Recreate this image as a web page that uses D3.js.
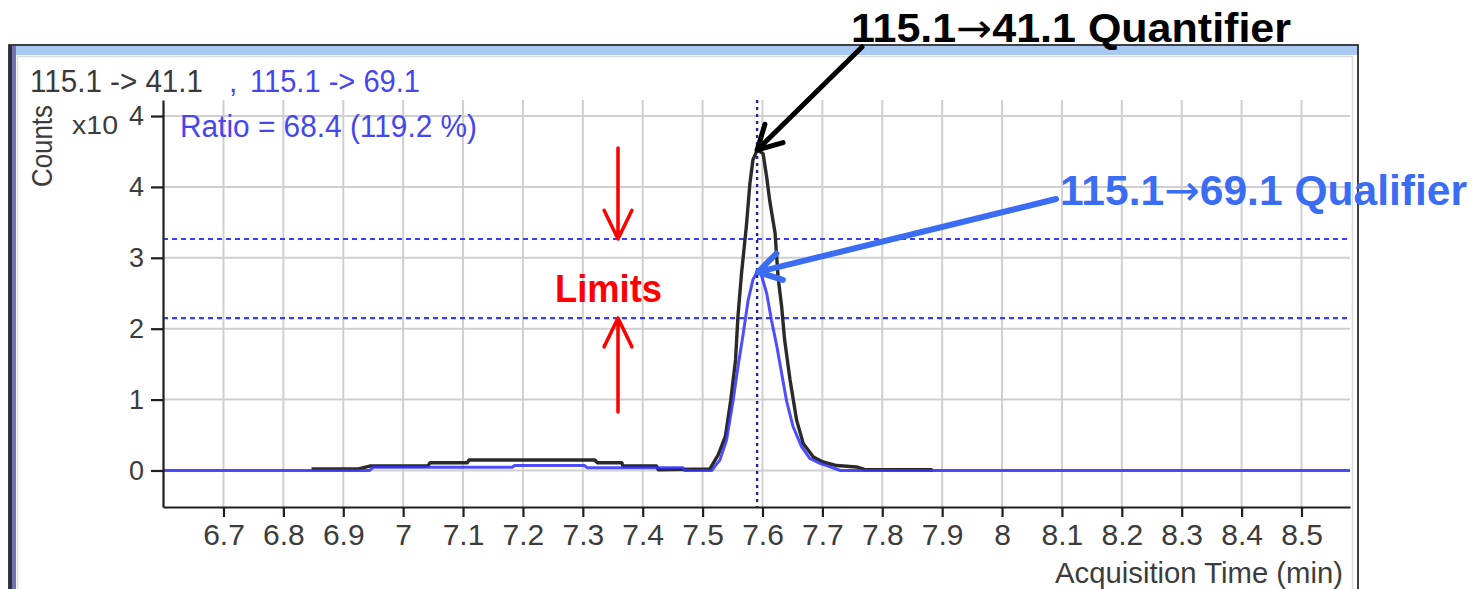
<!DOCTYPE html>
<html>
<head>
<meta charset="utf-8">
<script src="https://cdn.jsdelivr.net/npm/d3@7"></script>
<style>
  body { margin: 0; background: #fff; }
  svg text { font-family: "Liberation Sans", Arial, sans-serif; }
  .axis path, .axis line { stroke: #1e1e1e; stroke-width: 2.2; }
  .axis text { fill: #3c3c3c; font-family: "Liberation Sans", Arial, sans-serif; }
  .grid line { stroke: #cfcfcf; stroke-width: 2; }
  .arr { font-family: "DejaVu Sans", sans-serif; font-weight: normal; }
</style>
</head>
<body>
<svg class="srm-chart" width="1474" height="589"></svg>
<script>
// counts are x10^4, time in min
var quantTime = [6.847, 6.924, 6.944, 7.041, 7.045, 7.107, 7.110, 7.320, 7.324, 7.365, 7.367, 7.423, 7.426, 7.512,
  7.526, 7.538, 7.547, 7.555, 7.559, 7.565, 7.573, 7.579, 7.584, 7.591, 7.601, 7.607, 7.612, 7.621, 7.626,
  7.632, 7.637, 7.646, 7.657, 7.668, 7.685, 7.701, 7.724, 7.757, 7.770, 7.884];
var quantCounts = [0.02, 0.02, 0.063, 0.063, 0.11, 0.11, 0.148, 0.148, 0.11, 0.11, 0.063, 0.063, 0.01, 0.02,
  0.22, 0.48, 0.99, 1.56, 2.17, 2.78, 3.44, 4.05, 4.38, 4.52, 4.47, 4.14, 3.81, 3.35, 2.73,
  2.31, 1.84, 1.28, 0.71, 0.38, 0.19, 0.12, 0.07, 0.05, 0.015, 0.01];

var qualTime = [6.599, 6.944, 6.950, 7.182, 7.186, 7.303, 7.307, 7.467, 7.470, 7.515,
  7.529, 7.540, 7.551, 7.559, 7.568, 7.576, 7.584, 7.591, 7.598, 7.607, 7.615, 7.624,
  7.632, 7.640, 7.651, 7.665, 7.679, 7.696, 7.713, 7.730, 8.581];
var qualCounts = [0, 0, 0.045, 0.045, 0.07, 0.07, 0.04, 0.04, 0, 0,
  0.15, 0.43, 0.99, 1.46, 1.94, 2.40, 2.69, 2.80, 2.76, 2.50, 2.12, 1.75,
  1.37, 0.99, 0.62, 0.34, 0.17, 0.10, 0.05, 0, 0];

var retentionTime = 7.591;
var ratioLimits = [2.15, 3.265];

var xTicks = [6.7, 6.8, 6.9, 7.0, 7.1, 7.2, 7.3, 7.4, 7.5, 7.6, 7.7, 7.8, 7.9, 8.0, 8.1, 8.2, 8.3, 8.4, 8.5];
var yTicks = [0, 1, 2, 3, 4, 5];
var yTickLabels = ['0', '1', '2', '3', '4', '4']; // top tick carries the exponent of x10

var svg = d3.select('.srm-chart');

// window frame of the software panel
svg.append('rect').attr('x', 9).attr('y', 45).attr('width', 1349).attr('height', 560)
  .style('fill', '#fff').style('stroke', '#111').style('stroke-width', 1.6);
svg.append('rect').attr('x', 10).attr('y', 46).attr('width', 1347).attr('height', 9).style('fill', '#a9c8f2');
svg.append('rect').attr('x', 9).attr('y', 46).attr('width', 3).attr('height', 543).style('fill', '#2c2c52');
svg.append('rect').attr('x', 12).attr('y', 46).attr('width', 4).attr('height', 543).style('fill', '#7474aa');
svg.append('path').attr('d', 'M17.5,589 V56.5 H1352.5 V589')
  .style('fill', 'none').style('stroke', '#dcdcdc').style('stroke-width', 1.5);

var xScale = d3.scaleLinear()
    .domain([6.599, 8.581])
    .range([163, 1350]);

var yScale = d3.scaleLinear()
    .domain([-0.515, 5.226])
    .range([507, 100]);

// grid
var grid = svg.append('g').attr('class', 'grid');
grid.selectAll('.vg').data(xTicks).enter().append('line')
  .attr('x1', function(d) { return xScale(d); })
  .attr('x2', function(d) { return xScale(d); })
  .attr('y1', yScale.range()[1])
  .attr('y2', yScale.range()[0]);
grid.selectAll('.hg').data(yTicks).enter().append('line')
  .attr('x1', xScale.range()[0])
  .attr('x2', xScale.range()[1])
  .attr('y1', function(d) { return yScale(d); })
  .attr('y2', function(d) { return yScale(d); });

// qualifier ratio limits
svg.selectAll('.limit').data(ratioLimits).enter().append('line')
  .attr('class', 'limit')
  .attr('x1', xScale.range()[0])
  .attr('x2', xScale.range()[1])
  .attr('y1', function(d) { return yScale(d); })
  .attr('y2', function(d) { return yScale(d); })
  .style('stroke', '#3b3bff')
  .style('stroke-width', 2.2)
  .style('stroke-dasharray', '5,4');

var line = d3.line()
    .x(function(d) { return xScale(d[0]); })
    .y(function(d) { return yScale(d[1]); });

var quant = d3.zip(quantTime, quantCounts);
var qual = d3.zip(qualTime, qualCounts);

svg.append('path')
  .datum(quant)
  .attr('d', line)
  .style('fill', 'none')
  .style('stroke', '#2a2a2a')
  .style('stroke-width', 3.4)
  .style('stroke-linejoin', 'round');

svg.append('path')
  .datum(qual)
  .attr('d', line)
  .style('fill', 'none')
  .style('stroke', '#2f2fff')
  .style('stroke-opacity', 0.85)
  .style('stroke-width', 3)
  .style('stroke-linejoin', 'round');

// retention time marker
svg.append('line')
  .attr('x1', xScale(retentionTime))
  .attr('x2', xScale(retentionTime))
  .attr('y1', yScale.range()[1])
  .attr('y2', yScale.range()[0])
  .style('stroke', '#24249a')
  .style('stroke-width', 2.4)
  .style('stroke-dasharray', '3,4');

// axes
var x_axis = d3.axisBottom(xScale)
  .tickValues(xTicks)
  .tickSize(10)
  .tickSizeOuter(0)
  .tickPadding(7)
  .tickFormat(function(d) { return d3.format('')(+d.toFixed(1)); });

svg.append('g')
  .attr('class', 'x axis')
  .attr('transform', 'translate(0,' + yScale.range()[0] + ')')
  .call(x_axis)
  .selectAll('text').style('font-size', '30px');

var y_axis = d3.axisLeft(yScale)
  .tickValues(yTicks)
  .tickSize(12)
  .tickSizeOuter(0)
  .tickPadding(7)
  .tickFormat(function(d, i) { return yTickLabels[i]; });

svg.append('g')
  .attr('class', 'y axis')
  .attr('transform', 'translate(' + xScale.range()[0] + ',0)')
  .call(y_axis)
  .selectAll('text').style('font-size', '27px');

svg.append('text')
  .text('x10')
  .attr('x', 72).attr('y', 134)
  .attr('textLength', 46).attr('lengthAdjust', 'spacingAndGlyphs')
  .style('font-size', '26px').style('fill', '#3c3c3c');

svg.append('text')
  .text('Counts')
  .attr('transform', 'translate(52,146) rotate(-90)')
  .attr('text-anchor', 'middle')
  .attr('textLength', 82).attr('lengthAdjust', 'spacingAndGlyphs')
  .style('font-size', '30px').style('fill', '#3c3c3c');

svg.append('text')
  .text('Acquisition Time (min)')
  .attr('x', 1343).attr('y', 583)
  .attr('text-anchor', 'end')
  .attr('textLength', 288).attr('lengthAdjust', 'spacingAndGlyphs')
  .style('font-size', '30px').style('fill', '#3c3c3c');

// header line with the two transitions
svg.append('text')
  .text('115.1 -> 41.1')
  .attr('x', 30).attr('y', 92)
  .attr('textLength', 173).attr('lengthAdjust', 'spacingAndGlyphs')
  .style('font-size', '32px').style('fill', '#3a3a3a');
svg.append('text')
  .text(',')
  .attr('x', 229).attr('y', 92)
  .style('font-size', '30px').style('fill', '#4646f0');
svg.append('text')
  .text('115.1 -> 69.1')
  .attr('x', 250).attr('y', 92)
  .attr('textLength', 170).attr('lengthAdjust', 'spacingAndGlyphs')
  .style('font-size', '32px').style('fill', '#4646f0');
svg.append('text')
  .text('Ratio = 68.4 (119.2 %)')
  .attr('x', 180).attr('y', 137)
  .attr('textLength', 297).attr('lengthAdjust', 'spacingAndGlyphs')
  .style('font-size', '31px').style('fill', '#4646f0');

// annotation arrows
var arrow = function(tail, tip, arm, spread, color, width) {
  var ang = Math.atan2(tail[1] - tip[1], tail[0] - tip[0]);
  var a1 = [tip[0] + arm * Math.cos(ang + spread), tip[1] + arm * Math.sin(ang + spread)];
  var a2 = [tip[0] + arm * Math.cos(ang - spread), tip[1] + arm * Math.sin(ang - spread)];
  svg.append('path')
    .attr('d', 'M' + tail + 'L' + tip + 'M' + a1 + 'L' + tip + 'L' + a2)
    .style('fill', 'none')
    .style('stroke', color)
    .style('stroke-width', width)
    .style('stroke-linecap', 'round')
    .style('stroke-linejoin', 'round');
};

var peakX = xScale(retentionTime);
arrow([862, 47], [peakX, yScale(d3.max(quantCounts))], 27, 0.5, '#000', 5);
arrow([1056, 199], [peakX + 1, yScale(d3.max(qualCounts))], 26, 0.55, '#3a6cf4', 6);
arrow([618, 148], [618, yScale(ratioLimits[1])], 32, 0.45, '#ff0000', 3.5);
arrow([618, 412], [618, yScale(ratioLimits[0])], 32, 0.45, '#ff0000', 3.5);

var quantLabel = svg.append('text')
  .attr('x', 851).attr('y', 42)
  .attr('textLength', 440).attr('lengthAdjust', 'spacingAndGlyphs')
  .style('font-size', '40px').style('font-weight', 'bold').style('fill', '#000');
quantLabel.append('tspan').text('115.1');
quantLabel.append('tspan').attr('class', 'arr').text('\u2192');
quantLabel.append('tspan').text('41.1 Quantifier');

var qualLabel = svg.append('text')
  .attr('x', 1060).attr('y', 205)
  .attr('textLength', 407).attr('lengthAdjust', 'spacingAndGlyphs')
  .style('font-size', '42px').style('font-weight', 'bold').style('fill', '#3a6cf4');
qualLabel.append('tspan').text('115.1');
qualLabel.append('tspan').attr('class', 'arr').text('\u2192');
qualLabel.append('tspan').text('69.1 Qualifier');

svg.append('text')
  .text('Limits')
  .attr('x', 555).attr('y', 302)
  .attr('textLength', 107).attr('lengthAdjust', 'spacingAndGlyphs')
  .style('font-size', '38px').style('font-weight', 'bold').style('fill', '#ff0000');
</script>
</body>
</html>
